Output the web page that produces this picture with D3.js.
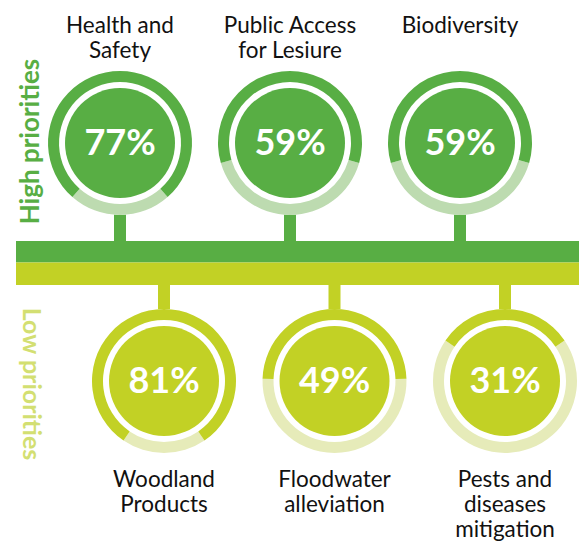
<!DOCTYPE html>
<html>
<head>
<meta charset="utf-8">
<script src="https://cdn.jsdelivr.net/npm/d3@7"></script>
<style>
  html, body { margin: 0; padding: 0; background: #fff; }
  svg { display: block; }
  text { font-family: Lato, "Open Sans", sans-serif; }
</style>
</head>
<body>
<div id="chart"></div>
<script>
// ---- data ----
const highCategories = [["Health and", "Safety"], ["Public Access", "for Lesiure"], ["Biodiversity"]];
const highValues = [77, 59, 59];
const lowCategories = [["Woodland", "Products"], ["Floodwater", "alleviation"], ["Pests and", "diseases", "mitigation"]];
const lowValues = [81, 49, 31];
const groupLabels = ["High priorities", "Low priorities"];

// ---- layout ----
const W = 579, H = 541;
const svg = d3.select("#chart").append("svg").attr("width", W).attr("height", H);

const colors = {
  high: "#58ae44", highLight: "#bddbb0",
  low: "#c2d125", lowLight: "#e6ebb9", lowText: "#d3df72"
};

const xHigh = d3.scalePoint().domain(d3.range(highValues.length)).range([120, 460]);
const xLow = d3.scalePoint().domain(d3.range(lowValues.length)).range([164, 505]);
const angle = d3.scaleLinear().domain([0, 100]).range([0, 2 * Math.PI]);

const R_OUT = 72, R_IN = 61, R_DISK = 55;
const yHigh = 143, yLow = 381;
const barTop = 241, barMid = 262.5, barBot = 285;

// stems
svg.selectAll("rect.stemH").data(highValues).join("rect")
  .attr("x", (d, i) => xHigh(i) - 6).attr("width", 12)
  .attr("y", yHigh + R_OUT - 2).attr("height", barTop - (yHigh + R_OUT - 2))
  .attr("fill", colors.high);
svg.selectAll("rect.stemL").data(lowValues).join("rect")
  .attr("x", (d, i) => xLow(i) - 6).attr("width", 12)
  .attr("y", barBot).attr("height", (yLow - R_OUT + 2) - barBot)
  .attr("fill", colors.low);

// bars
svg.append("rect").attr("x", 16).attr("y", barTop).attr("width", W - 16).attr("height", barMid - barTop).attr("fill", colors.high);
svg.append("rect").attr("x", 16).attr("y", barMid).attr("width", W - 16).attr("height", barBot - barMid).attr("fill", colors.low);

const arc = d3.arc().innerRadius(R_IN).outerRadius(R_OUT);

function drawRow(values, cats, xs, cy, main, light, labelTop) {
  const g = svg.selectAll(null).data(values).join("g")
    .attr("transform", (d, i) => `translate(${xs(i)},${cy})`);
  g.append("circle").attr("r", R_OUT).attr("fill", "#fff");
  g.append("path").attr("fill", light)
    .attr("d", d => arc({ startAngle: angle(d) / 2, endAngle: 2 * Math.PI - angle(d) / 2 }));
  g.append("path").attr("fill", main)
    .attr("d", d => arc({ startAngle: -angle(d) / 2, endAngle: angle(d) / 2 }));
  g.append("circle").attr("r", R_DISK).attr("fill", main);
  g.append("text").attr("text-anchor", "middle").attr("y", 12)
    .attr("fill", "#fff").attr("font-weight", "bold").attr("font-size", 36)
    .text(d => d + "%");

  cats.forEach((lines, i) => {
    const t = svg.append("text").attr("text-anchor", "middle")
      .attr("font-size", 22.5).attr("fill", "#111");
    lines.forEach((ln, j) => {
      t.append("tspan").attr("x", xs(i))
        .attr("y", labelTop + j * 25).text(ln);
    });
  });
}

drawRow(highValues, highCategories, xHigh, yHigh, colors.high, colors.highLight, 33);
drawRow(lowValues, lowCategories, xLow, yLow, colors.low, colors.lowLight, 487);

// group labels
svg.append("text").attr("transform", "translate(39,141.5) rotate(-90)")
  .attr("text-anchor", "middle").attr("font-weight", "bold").attr("font-size", 26)
  .attr("fill", colors.high).text(groupLabels[0]);
svg.append("text").attr("transform", "translate(23,384) rotate(90)")
  .attr("text-anchor", "middle").attr("font-weight", "bold").attr("font-size", 25)
  .attr("fill", colors.lowText).text(groupLabels[1]);
</script>
</body>
</html>
